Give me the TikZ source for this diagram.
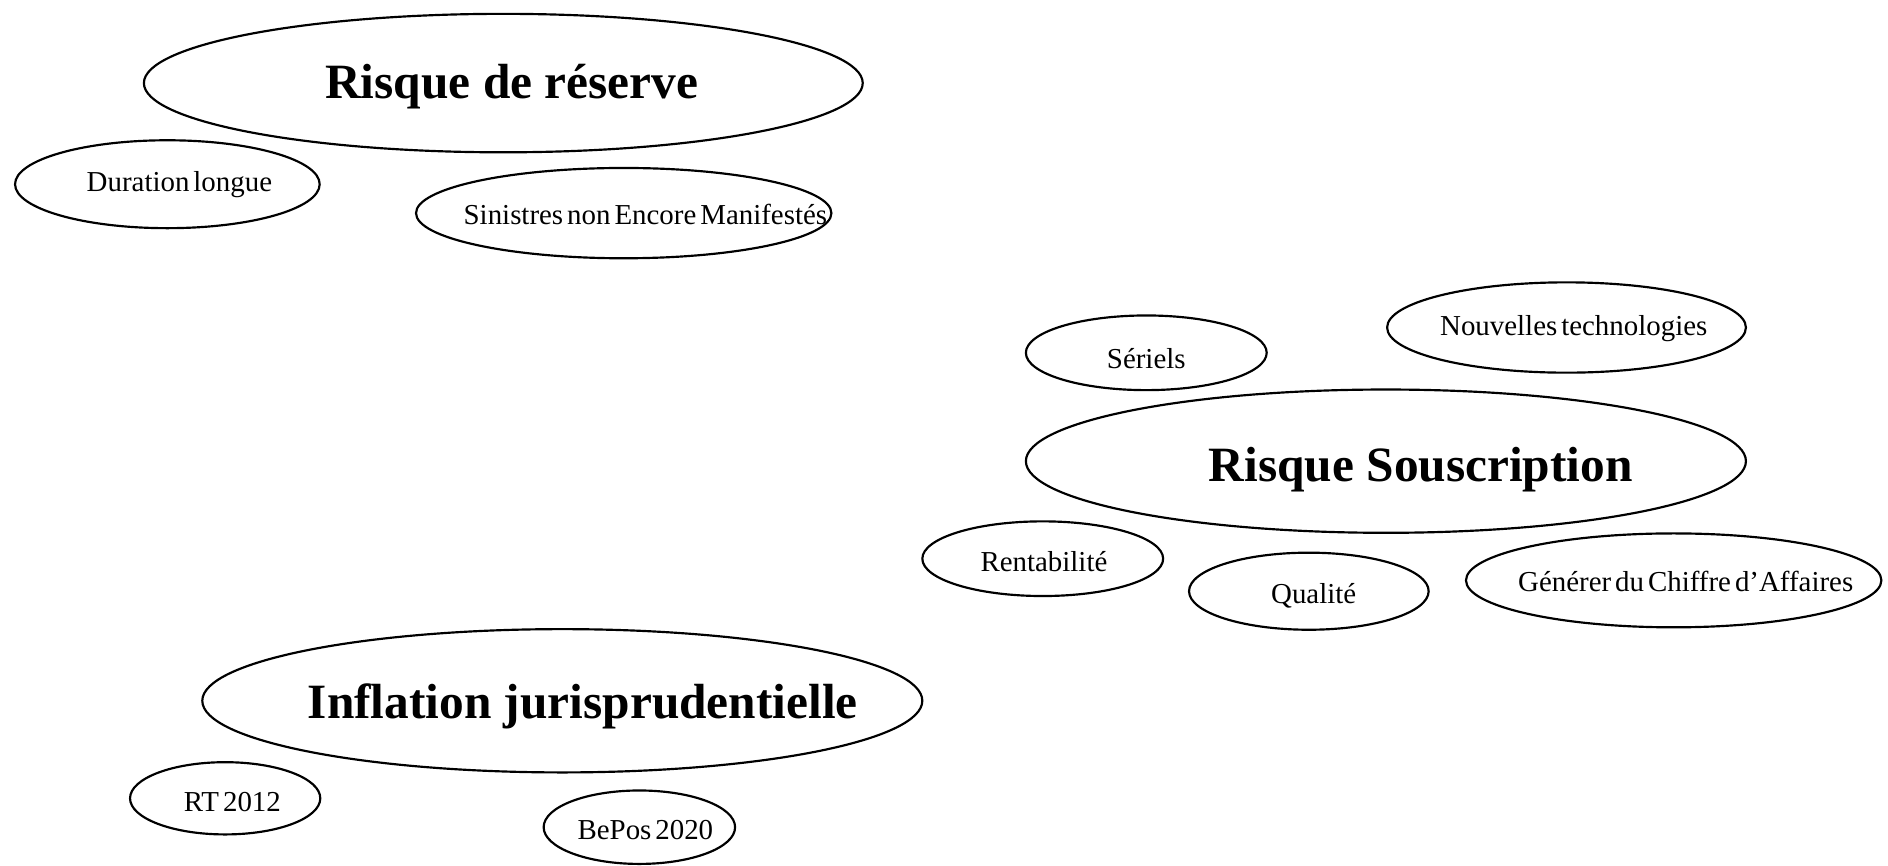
\documentclass[tikz,border=0pt]{standalone}
\usepackage{fontspec}
\setmainfont{Liberation Serif}
\newfontfamily\tightserif[WordSpace=0.55]{Liberation Serif}
\usetikzlibrary{shapes.geometric}
\tikzset{
  bubble/.style={draw, ellipse, line width=1.8pt, inner sep=0pt},
  bigtext/.style={font=\fontsize{41}{45}\selectfont\bfseries, inner sep=0pt, yshift=-3pt},
  smalltext/.style={font=\tightserif\fontsize{24}{28}\selectfont, inner sep=0pt, yshift=-2pt},
}
\begin{document}
\begin{tikzpicture}[x=1pt,y=-1pt]
\useasboundingbox (0,0) rectangle (1568,719);
% Risque de reserve group
\node[bubble, minimum width=597pt, minimum height=115pt] (res) at (418,69) {};
\node[bigtext] (resT) at (425,69) {Risque de réserve};
\node[bubble, minimum width=253pt, minimum height=73pt] (dur) at (139,153) {};
\node[smalltext] (durT) at (149,151) {Duration longue};
\node[bubble, minimum width=345pt, minimum height=75pt] (sin) at (518,177) {};
\node[smalltext] (sinT) at (536,176) {Sinistres non Encore Manifestés};
% Risque Souscription group
\node[bubble, minimum width=200pt, minimum height=62pt] (ser) at (952,293) {};
\node[smalltext] (serT) at (952,296) {Sériels};
\node[bubble, minimum width=298pt, minimum height=75pt] (nou) at (1301,272) {};
\node[smalltext] (nouT) at (1307,271) {Nouvelles technologies};
\node[bubble, minimum width=598pt, minimum height=119pt] (sou) at (1151,383) {};
\node[bigtext] (souT) at (1180,387) {Risque Souscription};
\node[bubble, minimum width=200pt, minimum height=62pt] (ren) at (866,464) {};
\node[smalltext] (renT) at (867,464) {Rentabilité};
\node[bubble, minimum width=199pt, minimum height=64pt] (qua) at (1087,491) {};
\node[smalltext] (quaT) at (1091,493) {Qualité};
\node[bubble, minimum width=345pt, minimum height=78pt] (gen) at (1390,482) {};
\node[smalltext] (genT) at (1400,481) {Générer du Chiffre d’Affaires};
% Inflation jurisprudentielle group
\node[bubble, minimum width=598pt, minimum height=119pt] (inf) at (467,582) {};
\node[bigtext] (infT) at (484,584) {Inflation jurisprudentielle};
\node[bubble, minimum width=158pt, minimum height=60pt] (rt) at (187,663) {};
\node[smalltext] (rtT) at (193,664) {RT 2012};
\node[bubble, minimum width=159pt, minimum height=61pt] (bep) at (531,687) {};
\node[smalltext] (bepT) at (536,687) {BePos 2020};
\end{tikzpicture}
\end{document}
